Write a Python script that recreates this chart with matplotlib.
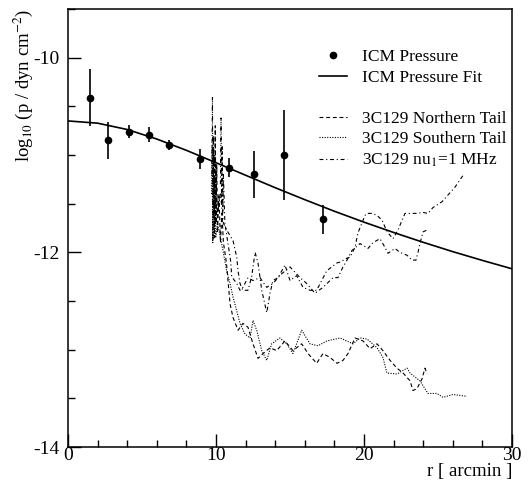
import matplotlib
matplotlib.use("Agg")
import matplotlib.pyplot as plt
from matplotlib.ticker import MultipleLocator
from matplotlib.lines import Line2D

plt.rcParams['font.family'] = ['Liberation Serif', 'DejaVu Serif']
plt.rcParams['mathtext.fontset'] = 'stix'
plt.rcParams['axes.unicode_minus'] = False

# ICM pressure data points (r [arcmin], log10 p, error)
icm_r = [1.49, 2.70, 4.12, 5.48, 6.84, 8.92, 10.9, 12.57, 14.6, 17.2]
icm_p = [-10.41, -10.85, -10.76, -10.79, -10.90, -11.04, -11.13, -11.20, -11.00, -11.66]
icm_err = [0.29, 0.19, 0.07, 0.08, 0.05, 0.10, 0.10, 0.245, 0.46, 0.15]

# ICM pressure fit curve
fit_r = [0, 2, 4, 6, 8, 10, 12, 14, 16, 18, 20, 22, 24, 26, 28, 30]
fit_p = [-10.650, -10.673, -10.738, -10.836, -10.952, -11.079, -11.208, -11.336,
         -11.459, -11.578, -11.690, -11.796, -11.897, -11.993, -12.083, -12.169]

# 3C129 Northern Tail
north_r = [9.85, 9.90, 9.95, 10.0, 10.05, 10.1, 10.2, 10.3, 10.4, 10.5, 10.7, 10.95,
           11.15, 11.49, 11.82, 12.16, 12.50, 12.84, 13.18, 13.65, 14.10, 14.66, 15.20,
           15.79, 16.22, 16.80, 17.23, 17.70, 18.18, 18.58, 18.92, 19.39, 19.93, 20.41,
           20.88, 21.28, 21.76, 22.23, 22.64, 23.11, 23.31, 23.58, 23.92, 24.12, 24.26]
north_p = [-11.0, -11.85, -10.7, -11.7, -11.1, -11.8, -11.4, -11.9, -11.6, -11.9, -12.1,
           -12.53, -12.67, -12.80, -12.73, -12.77, -12.94, -13.09, -13.04, -12.98, -13.01,
           -12.91, -13.01, -12.94, -13.04, -13.14, -13.04, -13.08, -13.14, -13.11, -13.04,
           -12.88, -12.91, -12.99, -12.94, -13.01, -13.11, -13.19, -13.24, -13.32, -13.42,
           -13.40, -13.30, -13.19, -13.25]

# 3C129 Southern Tail
south_r = [9.70, 9.74, 9.78, 9.83, 9.88, 9.93, 9.98, 10.1, 10.3, 10.47, 10.72, 10.95,
           11.15, 11.40, 11.62, 11.96, 12.30, 12.50, 12.75, 13.09, 13.43, 13.76, 14.32,
           14.78, 15.20, 15.79, 16.35, 16.89, 17.50, 18.38, 19.26, 19.73, 20.20, 20.88,
           21.28, 21.55, 22.23, 22.91, 23.11, 23.78, 24.32, 24.93, 25.34, 26.01, 26.96]
south_p = [-11.4, -10.9, -11.9, -11.0, -11.8, -11.3, -11.85, -11.7, -11.85, -11.98,
           -12.19, -12.32, -12.46, -12.60, -12.73, -12.84, -12.88, -12.70, -12.80, -13.01,
           -13.11, -12.94, -12.88, -12.94, -13.04, -12.80, -12.94, -12.96, -12.91, -12.88,
           -12.94, -12.88, -12.89, -12.98, -13.08, -13.24, -13.25, -13.19, -13.24, -13.32,
           -13.45, -13.45, -13.49, -13.46, -13.48]

# 3C129 nu1 = 1 MHz (southern tail)
mhz_s_r = [9.72, 9.76, 9.80, 9.84, 9.88, 9.92, 9.96, 10.0, 10.1, 10.3, 10.5, 10.72,
           11.15, 11.40, 11.49, 11.62, 11.82, 12.16, 12.41, 12.64, 12.84, 13.09, 13.43,
           13.65, 13.85, 14.19, 14.66, 15.0, 15.45, 15.88, 16.35, 16.80, 17.48, 18.16,
           18.38, 18.85, 19.05, 19.39, 19.59, 19.86, 20.07, 20.20, 20.54, 20.88, 21.22,
           21.42, 21.62, 21.96, 22.30, 22.57, 22.77, 23.11, 23.58, 23.99, 24.32, 24.66,
           25.27, 25.68, 26.15, 26.69]
mhz_s_p = [-11.2, -10.41, -11.88, -10.8, -11.6, -11.0, -11.7, -11.2, -11.6, -11.4,
           -11.7, -11.77, -11.88, -12.05, -12.19, -12.32, -12.39, -12.39, -12.25, -12.00,
           -12.11, -12.39, -12.62, -12.42, -12.29, -12.26, -12.13, -12.29, -12.24, -12.36,
           -12.39, -12.39, -12.19, -12.11, -12.10, -12.06, -12.05, -11.95, -11.80, -11.70,
           -11.62, -11.60, -11.60, -11.62, -11.67, -11.74, -11.80, -11.86, -11.77, -11.67,
           -11.60, -11.60, -11.60, -11.59, -11.60, -11.54, -11.48, -11.41, -11.33, -11.21]

# 3C129 nu1 = 1 MHz (northern tail)
mhz_n_r = [10.30, 10.34, 10.38, 10.42, 10.46, 10.5, 10.6, 10.8, 11.0, 11.06, 11.40,
           11.62, 11.82, 12.16, 12.50, 12.97, 13.43, 13.85, 14.44, 15.0, 15.68, 16.13,
           16.69, 17.23, 17.91, 18.24, 18.58, 18.85, 19.19, 19.73, 20.27, 20.61, 21.08,
           21.42, 21.62, 22.09, 22.43, 22.91, 23.24, 23.51, 23.65, 23.78, 23.99, 24.26]
mhz_n_p = [-11.3, -10.62, -11.5, -10.9, -11.6, -11.2, -11.7, -11.9, -12.1, -12.25,
           -12.32, -12.39, -12.36, -12.26, -12.29, -12.26, -12.36, -12.32, -12.22, -12.15,
           -12.26, -12.32, -12.42, -12.36, -12.26, -12.26, -12.15, -12.08, -11.98, -11.91,
           -11.96, -11.90, -11.86, -11.95, -12.01, -11.96, -12.00, -12.03, -12.08, -12.08,
           -12.00, -11.91, -11.79, -11.77]

fig = plt.figure(figsize=(5.29, 4.83), dpi=100)
ax = fig.add_axes([68/529, 1 - 447/483, (512-68)/529, (447-9)/483])

lw_tail = 0.8
dash = (0, (3.5, 2.5))
dot = (0, (1, 1.3))
dashdot = (0, (3.5, 2.5, 1, 2.5))
h_n, = ax.plot(north_r, north_p, color='black', lw=lw_tail, ls=dash)
h_s, = ax.plot(south_r, south_p, color='black', lw=lw_tail, ls=dot)
h_m, = ax.plot(mhz_s_r, mhz_s_p, color='black', lw=lw_tail, ls=dashdot)
ax.plot(mhz_n_r, mhz_n_p, color='black', lw=lw_tail, ls=dashdot)

h_fit, = ax.plot(fit_r, fit_p, color='black', lw=1.2)
ax.errorbar(icm_r, icm_p, yerr=icm_err, fmt='o', color='black', ms=4.5,
            elinewidth=1.2, capsize=0)
h_pts = Line2D([], [], ls='none', marker='o', color='black', ms=4.5)

ax.set_xlim(0, 30)
ax.set_ylim(-14, -9.5)
ax.xaxis.set_major_locator(MultipleLocator(10))
ax.xaxis.set_minor_locator(MultipleLocator(2))
ax.yaxis.set_major_locator(MultipleLocator(2))
ax.yaxis.set_minor_locator(MultipleLocator(0.5))
ax.tick_params(which='both', direction='in', top=False, right=False, labelsize=14,
               width=1.0)
ax.tick_params(which='major', length=9.5)
ax.tick_params(which='minor', length=5)
ax.tick_params(axis='x', which='major', pad=0)
ax.tick_params(axis='y', which='major', pad=6)
for s in ax.spines.values():
    s.set_linewidth(1.1)

ax.set_xlabel('r [ arcmin ]', loc='right', fontsize=13.5, labelpad=-1)
ax.set_ylabel(r'log$_{10}$ (p / dyn cm$^{-2}$)', loc='top', fontsize=13.5, labelpad=-1)

common = dict(frameon=False, fontsize=12.5, handlelength=1.6, handletextpad=0.9,
              labelspacing=0.25, borderpad=0, borderaxespad=0)
leg1 = ax.legend([h_pts, h_fit], ['ICM Pressure', 'ICM Pressure Fit'],
                 loc='upper left', bbox_to_anchor=(0.565, 0.908), **common)
ax.add_artist(leg1)
ax.legend([h_n, h_s, h_m], ['3C129 Northern Tail', '3C129 Southern Tail',
                            r'3C129 nu$_1$=1 MHz'],
          loc='upper left', bbox_to_anchor=(0.565, 0.768), **common)

fig.savefig('out.png', dpi=100)
